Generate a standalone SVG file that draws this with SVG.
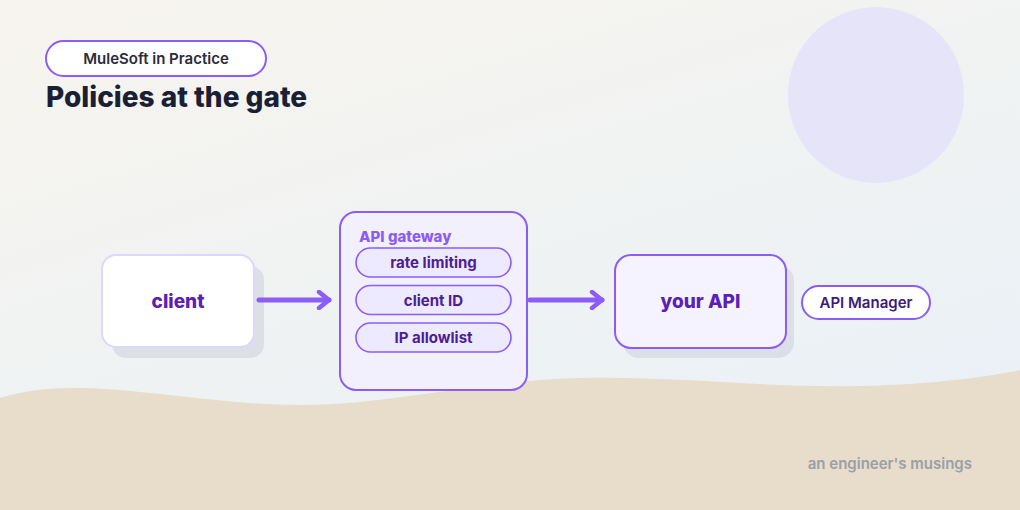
<svg xmlns="http://www.w3.org/2000/svg" width="1020" height="510" viewBox="0 0 1020 510">
<defs>
<linearGradient id="bg" x1="0" y1="0" x2="0.6" y2="1">
<stop offset="0" stop-color="#f7f4ee"/>
<stop offset="1" stop-color="#eaf1f6"/>
</linearGradient>
<marker id="chev" viewBox="0 0 20 20" refX="14" refY="10" markerWidth="20" markerHeight="20" markerUnits="userSpaceOnUse" orient="auto">
<path d="M4 2 L14 10 L4 18" fill="none" stroke="#8b5cf6" stroke-width="4.5" stroke-linecap="round" stroke-linejoin="round"/>
</marker>
<style>
.pill{fill:#ede9fe;stroke:#8b5cf6;stroke-width:1.6}
.ptxt{font-family:Inter,"Liberation Sans",sans-serif;font-weight:700;font-size:15px;fill:#4c1d95;text-anchor:middle}
.ntxt{font-family:Inter,"Liberation Sans",sans-serif;font-weight:800;font-size:19px;fill:#5b21b6;text-anchor:middle}
.shadow{fill:#dcdfe5}
.conn{stroke:#8b5cf6;stroke-width:5;fill:none;stroke-linecap:round}
</style>
</defs>
<rect width="1020" height="510" fill="url(#bg)"/>
<circle cx="876" cy="95" r="88" fill="#e6e4f8"/>
<path d="M0 398 C40 386 80 386 140 392 C220 400 280 410 360 402 C440 394 500 380 580 378 C680 376 760 388 860 386 C940 384 990 376 1020 370 L1020 510 L0 510 Z" fill="#e8dcca"/>

<g id="header">
<rect x="46" y="41" width="220" height="35" rx="17.5" fill="#ffffff" stroke="#8b5cf6" stroke-width="2"/>
<text x="156" y="64" font-family="Inter,'Liberation Sans',sans-serif" font-weight="600" font-size="15" fill="#2b2b3b" text-anchor="middle">MuleSoft in Practice</text>
<text x="46" y="107" font-family="Inter,'Liberation Sans',sans-serif" font-weight="800" font-size="28" fill="#1a1f36">Policies at the gate</text>
</g>

<g id="client">
<rect class="shadow" x="112" y="266" width="152" height="92" rx="14"/>
<rect x="102" y="255" width="152" height="92" rx="14" fill="#ffffff" stroke="#ddd6fe" stroke-width="2"/>
<text class="ntxt" x="178" y="308">client</text>
</g>

<g id="gateway">
<rect x="340" y="212" width="187" height="178" rx="16" fill="#f3f0fd" stroke="#8b5cf6" stroke-width="2"/>
<text x="359" y="242" font-family="Inter,'Liberation Sans',sans-serif" font-weight="800" font-size="15" fill="#8b5cf6">API gateway</text>
<g id="rate-limiting">
<rect class="pill" x="356" y="248" width="155" height="29" rx="14.5"/>
<text class="ptxt" x="433.5" y="268">rate limiting</text>
</g>
<g id="client-id">
<rect class="pill" x="356" y="285.5" width="155" height="29" rx="14.5"/>
<text class="ptxt" x="433.5" y="305.5">client ID</text>
</g>
<g id="ip-allowlist">
<rect class="pill" x="356" y="323" width="155" height="29" rx="14.5"/>
<text class="ptxt" x="433.5" y="343">IP allowlist</text>
</g>
</g>

<g id="your-api">
<rect class="shadow" x="623" y="265" width="171" height="93" rx="16"/>
<rect x="615" y="255" width="171" height="93" rx="16" fill="#f5f3ff" stroke="#8b5cf6" stroke-width="2"/>
<text class="ntxt" x="700.5" y="308">your API</text>
</g>

<g id="api-manager">
<rect x="802" y="286" width="128" height="33" rx="16.5" fill="#ffffff" stroke="#8b5cf6" stroke-width="2"/>
<text x="866" y="308" font-family="Inter,'Liberation Sans',sans-serif" font-weight="600" font-size="15" fill="#3b1a78" text-anchor="middle">API Manager</text>
</g>

<g id="connectors">
<line class="conn" x1="259" y1="300" x2="329" y2="300" marker-end="url(#chev)"/>
<line class="conn" x1="530" y1="300" x2="602" y2="300" marker-end="url(#chev)"/>
</g>

<text x="972" y="469" font-family="Inter,'Liberation Sans',sans-serif" font-weight="600" font-size="15" fill="#9aa0a8" text-anchor="end">an engineer's musings</text>
</svg>
